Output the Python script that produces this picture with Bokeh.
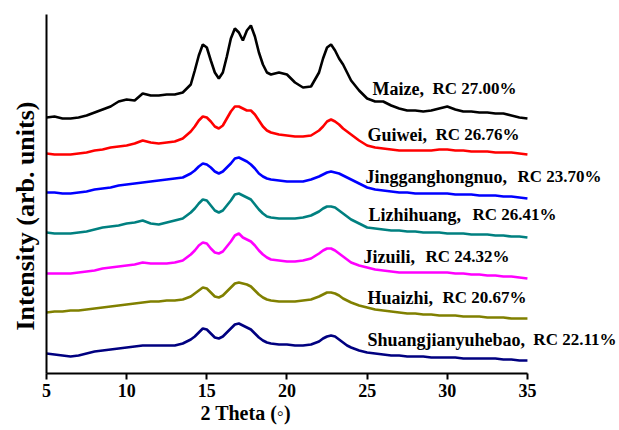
from bokeh.plotting import figure
from bokeh.models import Range1d, FixedTicker, Title
from bokeh.core.properties import value
from bokeh.embed import file_html
from bokeh.resources import INLINE

# 2-theta sample positions (degrees)
two_theta = [5, 5.5, 6, 6.5, 7, 7.5, 8, 8.5, 9, 9.5, 10, 10.5, 11, 11.5, 12, 12.5, 13, 13.5, 14,
             14.25, 14.5, 14.75, 15, 15.25, 15.5, 15.75, 16, 16.25, 16.5, 16.75, 17, 17.25, 17.5, 17.75,
             18, 18.25, 18.5, 18.75, 19,
             19.5, 20, 20.5, 21, 21.5, 22,
             22.25, 22.5, 22.75, 23, 23.25, 23.5, 23.75, 24,
             24.5, 25, 25.5, 26, 26.5, 27, 27.5, 28, 28.5, 29, 29.5, 30, 30.5, 31, 31.5, 32, 32.5,
             33, 33.5, 34, 34.5, 35]

# stacked intensities (arb. units)
maize = [256, 257, 255, 255, 256, 258, 261, 264, 267, 272, 274, 273, 280, 278, 278, 279, 279, 281, 289,
         303, 318, 329, 326, 313, 301, 295, 301, 317, 335, 345, 341, 333, 343, 348, 337, 321, 309, 301, 299,
         301, 299, 291, 286, 287, 301,
         315, 326, 329, 323, 315, 309, 301, 293,
         283, 275, 272, 272, 268, 265, 263, 263, 262, 263, 265, 267, 264, 262, 262, 261, 261, 260, 260, 258, 256, 255]
guiwei = [220, 219, 219, 219, 220, 221, 223, 224, 226, 227, 228, 230, 233, 231, 230, 231, 232, 235, 242,
          247, 253, 257, 256, 252, 247, 245, 248, 255, 262, 267, 267, 265, 263, 263, 259, 253, 247, 243, 241,
          239, 238, 237, 237, 238, 243,
          247, 252, 254, 252, 249, 245, 242, 239,
          233, 228, 226, 225, 224, 223, 223, 223, 223, 223, 224, 224, 223, 223, 222, 222, 222, 221, 221, 221, 220, 219]
jingganghongnuo = [181, 181, 180, 180, 181, 182, 184, 185, 186, 188, 189, 190, 191, 192, 193, 194, 195, 196, 200,
                   203, 207, 210, 209, 206, 202, 200, 202, 206, 210, 215, 216, 214, 212, 209, 205, 200, 197, 195, 194,
                   193, 192, 192, 192, 194, 197,
                   199, 201, 202, 201, 200, 198, 196, 194,
                   190, 186, 184, 183, 182, 181, 181, 180, 180, 180, 180, 180, 179, 179, 179, 178, 178, 178, 177, 177, 176, 175]
lizhihuang = [141, 140, 140, 140, 141, 142, 144, 146, 147, 148, 150, 151, 153, 150, 149, 151, 153, 155, 161,
              165, 170, 174, 173, 168, 163, 161, 163, 168, 173, 179, 180, 178, 176, 174, 169, 164, 160, 157, 156,
              155, 155, 155, 156, 158, 162,
              165, 167, 167, 166, 163, 160, 157, 154,
              150, 146, 145, 144, 143, 143, 142, 142, 141, 141, 141, 140, 140, 140, 139, 139, 139, 138, 138, 137, 137, 136]
jizuili = [100, 100, 100, 100, 101, 102, 103, 105, 106, 107, 108, 109, 111, 110, 110, 110, 111, 113, 119,
           123, 128, 131, 130, 125, 121, 120, 122, 127, 132, 138, 140, 136, 134, 132, 128, 123, 119, 116, 114,
           113, 112, 112, 113, 115, 120,
           123, 125, 125, 123, 120, 117, 114, 111,
           108, 106, 104, 103, 102, 101, 101, 101, 101, 101, 101, 101, 100, 100, 99, 99, 98, 98, 97, 97, 96, 95]
huaizhi = [61, 62, 62, 63, 63, 64, 65, 66, 67, 68, 69, 70, 71, 72, 72, 73, 73, 74, 77,
           80, 83, 86, 85, 81, 77, 76, 78, 82, 86, 90, 91, 90, 89, 87, 83, 79, 76, 74, 73,
           72, 72, 72, 73, 74, 77,
           79, 81, 81, 80, 78, 75, 73, 71,
           68, 66, 64, 63, 62, 61, 60, 60, 59, 59, 58, 58, 58, 57, 57, 57, 56, 56, 56, 55, 55, 55]
shuangjianyuhebao = [20, 19, 18, 17, 18, 20, 22, 23, 24, 25, 26, 27, 28, 28, 28, 28, 28, 30, 34,
                     37, 41, 45, 44, 40, 36, 35, 37, 41, 45, 49, 50, 48, 46, 44, 40, 36, 33, 31, 30,
                     29, 29, 28, 28, 29, 32,
                     35, 37, 38, 37, 34, 31, 28, 26,
                     23, 21, 20, 19, 18, 18, 17, 17, 17, 16, 16, 16, 16, 15, 15, 15, 15, 15, 14, 14, 13, 13]

names = ["Maize,", "Guiwei,", "Jingganghongnuo,", "Lizhihuang,", "Jizuili,", "Huaizhi,", "Shuangjianyuhebao,"]
rc_labels = ["RC 27.00%", "RC 26.76%", "RC 23.70%", "RC 26.41%", "RC 24.32%", "RC 20.67%", "RC 22.11%"]
series = [maize, guiwei, jingganghongnuo, lizhihuang, jizuili, huaizhi, shuangjianyuhebao]
colors = ["#000000", "#ff0000", "#0000ff", "#008080", "#ff00ff", "#808000", "#000080"]

x_ticks = [5, 10, 15, 20, 25, 30, 35]

# label layout (data coordinates)
name_x = [25.33, 25.02, 24.90, 25.08, 24.77, 25.02, 25.02]
rc_x = [29.08, 29.26, 34.38, 31.57, 28.64, 29.70, 35.37]
label_y = [285, 239, 197, 159, 117, 76, 34]

FONT = "Liberation Serif"

p = figure(width=619, height=430, output_backend="svg", toolbar_location=None,
           x_range=Range1d(5, 40.68), y_range=Range1d(0, 359),
           min_border_left=46, min_border_right=1, min_border_top=14, min_border_bottom=57)
p.outline_line_color = None
p.grid.visible = False
p.background_fill_color = "white"

for ys, c in zip(series, colors):
    p.line(two_theta, ys, line_color=c, line_width=2.6)

p.text(x=name_x, y=label_y, text=names, text_font=value(FONT), text_font_style="bold",
       text_font_size="18px", text_color="black", text_baseline="alphabetic", text_align="left")
p.text(x=rc_x, y=label_y, text=rc_labels, text_font=value(FONT), text_font_style="bold",
       text_font_size="17px", text_color="black", text_baseline="alphabetic", text_align="left")

xa = p.xaxis[0]
xa.bounds = (5, 35)
xa.ticker = FixedTicker(ticks=x_ticks)
xa.minor_tick_line_color = None
xa.major_tick_in = 0
xa.major_tick_out = 6
xa.major_tick_line_width = 2
xa.axis_line_width = 2
xa.major_label_text_font = FONT
xa.major_label_text_font_style = "bold"
xa.major_label_text_font_size = "18px"
xa.major_label_text_color = "black"
xa.major_label_standoff = 4

ya = p.yaxis[0]
ya.ticker = FixedTicker(ticks=[])
ya.minor_tick_line_color = None
ya.major_tick_line_color = None
ya.axis_line_width = 2
ya.major_label_text_font_size = "0px"

p.add_layout(Title(text="2 Theta (\u25e6)", align="left", offset=154, standoff=0,
                   text_font=FONT, text_font_style="bold", text_font_size="20px",
                   text_color="black"), "below")
p.add_layout(Title(text="Intensity (arb. units)", align="left", offset=43, standoff=14,
                   text_font=FONT, text_font_style="bold", text_font_size="26px",
                   text_color="black"), "left")

open("out.html", "w").write(file_html(p, INLINE))
